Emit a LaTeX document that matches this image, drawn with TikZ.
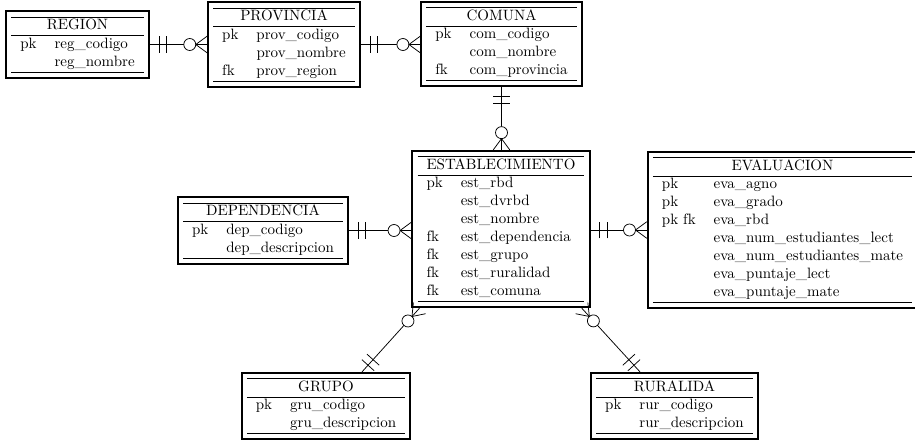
\documentclass[tikz,border=0pt]{standalone}
\usepackage{fontspec}
\usepackage{tikz}
\usetikzlibrary{decorations.markings,calc}
\tikzstyle{Entity}=[rectangle, draw=black, line width=1.3pt, inner sep=3.5pt, fill=white]
\tikzstyle{OneMany}=[line width=0.5pt, postaction={decorate}, decoration={markings,
    mark=at position 6pt with {\draw[line width=0.5pt] (0,-5.5pt) -- (0,5.5pt);},
    mark=at position 11pt with {\draw[line width=0.5pt] (0,-5.5pt) -- (0,5.5pt);},
    mark=at position -11.5pt with {\draw[line width=0.5pt, fill=white] (0,0) circle (4pt);},
    mark=at position 1 with {\draw[line width=0.5pt] (-7.5pt,0) -- (0,5.5pt) (-7.5pt,0) -- (0,-5.5pt);}}]

\begin{document}
\begin{tikzpicture}[x=0.6667pt, y=-0.6667pt]
    \useasboundingbox (0,0) rectangle (915,446);
    \path
    (77.5,44.5) node[Entity] (region) {\begin{tabular}{ll}\hline
        \multicolumn{2}{c}{REGION}\\\hline
        pk & reg\_codigo\\
           & reg\_nombre\\\hline\end{tabular}}
    (284,44.5) node[Entity] (provincia) {\begin{tabular}{ll}\hline
        \multicolumn{2}{c}{PROVINCIA}\\\hline
        pk & prov\_codigo\\
           & prov\_nombre\\
        fk & prov\_region\\\hline\end{tabular}}
    (501.5,44) node[Entity] (comuna) {\begin{tabular}{ll}\hline
        \multicolumn{2}{c}{COMUNA}\\\hline
        pk & com\_codigo\\
           & com\_nombre\\
        fk & com\_provincia\\\hline\end{tabular}}
    (501,229) node[Entity] (est) {\begin{tabular}{ll}\hline
        \multicolumn{2}{c}{ESTABLECIMIENTO}\\\hline
        pk & est\_rbd\\
           & est\_dvrbd\\
           & est\_nombre\\
        fk & est\_dependencia\\
        fk & est\_grupo\\
        fk & est\_ruralidad\\
        fk & est\_comuna\\\hline\end{tabular}}
    (782.5,230) node[Entity] (eva) {\begin{tabular}{ll}\hline
        \multicolumn{2}{c}{EVALUACION}\\\hline
        pk & eva\_agno\\
        pk & eva\_grado\\
        pk fk & eva\_rbd\\
           & eva\_num\_estudiantes\_lect\\
           & eva\_num\_estudiantes\_mate\\
           & eva\_puntaje\_lect\\
           & eva\_puntaje\_mate\\\hline\end{tabular}}
    (263,230.5) node[Entity] (dep) {\begin{tabular}{ll}\hline
        \multicolumn{2}{c}{DEPENDENCIA}\\\hline
        pk & dep\_codigo\\
           & dep\_descripcion\\\hline\end{tabular}}
    (326,406) node[Entity] (grupo) {\begin{tabular}{ll}\hline
        \multicolumn{2}{c}{GRUPO}\\\hline
        pk & gru\_codigo\\
           & gru\_descripcion\\\hline\end{tabular}}
    (674.5,406) node[Entity] (rur) {\begin{tabular}{ll}\hline
        \multicolumn{2}{c}{RURALIDA}\\\hline
        pk & rur\_codigo\\
           & rur\_descripcion\\\hline\end{tabular}};

    \coordinate (estg) at ([xshift=5.5pt]est.south west);
    \coordinate (estr) at ([xshift=-6pt]est.south east);
    \coordinate (grupotop) at ([xshift=24pt]grupo.north);
    \coordinate (rurtop) at ([xshift=-23pt]rur.north);

    \draw[OneMany] (region.east) -- (region.east -| provincia.west);
    \draw[OneMany] (provincia.east) -- (provincia.east -| comuna.west);
    \draw[OneMany] (comuna.south) -- (comuna.south |- est.north);
    \draw[OneMany] (dep.east) -- (dep.east -| est.west);
    \draw[OneMany] (est.east |- eva.west) -- (eva.west);
    \draw[OneMany] (grupotop) -- (estg);
    \draw[OneMany] (rurtop) -- (estr);
\end{tikzpicture}
\end{document}
